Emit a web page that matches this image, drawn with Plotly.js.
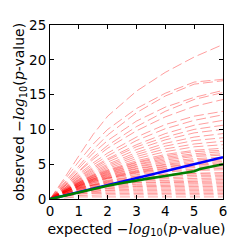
<!DOCTYPE html>
<html>
<head>
<meta charset="utf-8">
<script src="https://cdn.plot.ly/plotly-3.0.1.min.js"></script>
<style>html,body{margin:0;padding:0;background:#fff;}#chart{width:249px;height:249px;}</style>
</head>
<body>
<div id="chart"></div>
<script>
// expected -log10(p) grid for the red (permuted) curves
var xGrid = [0, 0.25, 0.5, 1, 1.5, 2, 3, 4, 5, 6];

// observed -log10(p) of each red curve at xGrid
var redCurves = [
  [0, 1.5, 3.0, 6.2, 9.3, 11.9, 15.5, 18.2, 20.4, 22.2],
  [0, 1.3, 2.7, 5.4, 7.9, 10.0, 13.0, 15.2, 16.8, 17.2],
  [0, 1.2, 2.4, 4.8, 7.1, 9.2, 12.4, 14.8, 16.5, 17.0],
  [0, 1.1, 2.2, 4.5, 6.6, 8.4, 11.2, 13.2, 14.6, 15.6],
  [0, 1.0, 2.0, 4.1, 6.0, 7.7, 10.4, 12.6, 14.3, 15.3],
  [0, 1.0, 2.0, 3.9, 5.7, 7.3, 9.8, 11.8, 13.3, 14.3],
  [0, 0.9, 1.8, 3.6, 5.2, 6.6, 8.9, 10.7, 11.9, 12.6],
  [0, 0.9, 1.8, 3.4, 4.9, 6.2, 8.4, 10.1, 11.3, 12.1],
  [0, 0.8, 1.6, 3.2, 4.6, 5.8, 7.8, 9.4, 10.6, 11.3],
  [0, 0.8, 1.6, 3.1, 4.4, 5.6, 7.5, 8.9, 10.0, 10.6],
  [0, 0.8, 1.5, 2.9, 4.2, 5.3, 7.1, 8.5, 9.5, 10.0],
  [0, 0.7, 1.4, 2.8, 4.0, 5.0, 6.7, 8.0, 8.9, 9.4],
  [0, 0.7, 1.4, 2.7, 3.8, 4.8, 6.4, 7.6, 8.4, 8.8],
  [0, 0.7, 1.3, 2.6, 3.6, 4.6, 6.1, 7.2, 7.9, 8.3],
  [0, 0.7, 1.3, 2.5, 3.5, 4.4, 5.8, 6.8, 7.5, 7.8],
  [0, 0.6, 1.2, 2.4, 3.4, 4.2, 5.5, 6.4, 7.0, 7.3],
  [0, 0.6, 1.2, 2.4, 3.3, 4.1, 5.3, 6.2, 6.8, 7.0],
  [0, 0.6, 1.2, 2.3, 3.2, 4.0, 5.2, 6.0, 6.5, 6.8],
  [0, 0.6, 1.2, 2.3, 3.1, 3.9, 5.0, 5.8, 6.3, 6.5],
  [0, 0.6, 1.2, 2.2, 3.1, 3.8, 4.9, 5.6, 6.1, 6.3],
  [0, 0.6, 1.1, 2.2, 3.0, 3.7, 4.7, 5.4, 5.8, 6.0],
  [0, 0.6, 1.1, 2.1, 2.9, 3.6, 4.6, 5.2, 5.6, 5.8],
  [0, 0.6, 1.1, 2.1, 2.9, 3.5, 4.4, 5.0, 5.4, 5.6],
  [0, 0.6, 1.1, 2.0, 2.8, 3.4, 4.3, 4.9, 5.2, 5.4],
  [0, 0.5, 1.1, 2.0, 2.7, 3.3, 4.1, 4.7, 5.0, 5.2],
  [0, 0.5, 1.0, 1.9, 2.7, 3.2, 4.0, 4.6, 4.9, 5.0],
  [0, 0.5, 1.0, 1.9, 2.6, 3.1, 3.9, 4.4, 4.7, 4.8],
  [0, 0.5, 1.0, 1.9, 2.5, 3.0, 3.8, 4.3, 4.5, 4.6],
  [0, 0.5, 1.0, 1.8, 2.5, 3.0, 3.7, 4.1, 4.3, 4.4],
  [0, 0.5, 1.0, 1.8, 2.4, 2.9, 3.5, 3.9, 4.1, 4.2],
  [0, 0.5, 1.0, 1.7, 2.3, 2.7, 3.3, 3.6, 3.7, 3.8],
  [0, 0.5, 1.0, 1.7, 2.2, 2.6, 3.2, 3.5, 3.6, 3.6],
  [0, 0.5, 0.9, 1.6, 2.1, 2.5, 3.0, 3.3, 3.4, 3.4],
  [0, 0.5, 0.9, 1.6, 2.0, 2.4, 2.9, 3.1, 3.2, 3.2],
  [0, 0.5, 0.9, 1.5, 2.0, 2.3, 2.7, 2.9, 3.0, 3.0],
  [0, 0.4, 0.8, 1.5, 1.9, 2.2, 2.6, 2.7, 2.8, 2.8],
  [0, 0.4, 0.8, 1.4, 1.8, 2.1, 2.4, 2.5, 2.6, 2.6],
  [0, 0.4, 0.8, 1.4, 1.7, 2.0, 2.3, 2.4, 2.4, 2.4],
  [0, 0.4, 0.8, 1.3, 1.6, 1.9, 2.1, 2.2, 2.2, 2.2],
  [0, 0.4, 0.7, 1.2, 1.5, 1.8, 1.9, 2.0, 2.0, 2.0],
  [0, 0.4, 0.7, 1.1, 1.4, 1.6, 1.8, 1.8, 1.8, 1.8],
  [0, 0.3, 0.6, 1.1, 1.3, 1.5, 1.6, 1.6, 1.6, 1.6],
  [0, 0.3, 0.6, 1.0, 1.2, 1.3, 1.4, 1.4, 1.4, 1.4],
  [0, 0.3, 0.5, 0.9, 1.1, 1.2, 1.2, 1.2, 1.2, 1.2],
  [0, 0.3, 0.5, 0.8, 0.9, 1.0, 1.0, 1.0, 1.0, 1.0],
  [0, 0.2, 0.4, 0.7, 0.8, 0.8, 0.8, 0.8, 0.8, 0.8],
  [0, 0.2, 0.4, 0.5, 0.6, 0.6, 0.6, 0.6, 0.6, 0.6],
  [0, 0.1, 0.2, 0.3, 0.3, 0.3, 0.3, 0.3, 0.3, 0.3]
];

// expected = observed reference line
var diagX = [0, 6];
var diagY = [0, 6];

// observed real data
var obsX = [0, 0.5, 1, 1.5, 2, 2.5, 3, 3.5, 4, 4.5, 4.8, 5, 5.2, 5.4, 5.6, 5.8, 6];
var obsY = [0, 0.5, 1.0, 1.45, 1.9, 2.3, 2.7, 3.0, 3.3, 3.6, 3.8, 4.0, 4.3, 4.5, 4.6, 4.9, 5.0];

var xTicks = [0, 1, 2, 3, 4, 5, 6];
var yTicks = [0, 5, 10, 15, 20, 25];

var traces = [];
redCurves.forEach(function (ys) {
  traces.push({
    x: xGrid, y: ys, type: 'scatter', mode: 'lines',
    line: {color: 'rgba(255,0,0,0.38)', width: 1, dash: '10px,4px'},
    hoverinfo: 'skip', showlegend: false
  });
});
traces.push({x: diagX, y: diagY, type: 'scatter', mode: 'lines',
  line: {color: '#0000ff', width: 2.6}, showlegend: false});
traces.push({x: obsX, y: obsY, type: 'scatter', mode: 'lines',
  line: {color: '#007f00', width: 2.6}, showlegend: false});

var mathL = '<span style="font-family:\'DejaVu Serif\';font-style:italic">';
var layout = {
  width: 249, height: 249,
  margin: {l: 50, r: 26, t: 25, b: 50},
  paper_bgcolor: '#ffffff', plot_bgcolor: '#ffffff',
  font: {family: 'DejaVu Sans', size: 14, color: '#000'},
  showlegend: false,
  xaxis: {
    range: [0, 6], tickvals: xTicks, ticktext: xTicks.map(String),
    ticks: 'inside', ticklen: 4, tickcolor: '#000', mirror: 'ticks',
    showline: true, linecolor: '#000', linewidth: 1, showgrid: false, zeroline: false,
    tickfont: {size: 13.5}, automargin: true,
    title: {text: 'expected ' + mathL + '−log</span><sub>10</sub>(' + mathL + 'p</span>-value)', font: {size: 14}, standoff: 5}
  },
  yaxis: {
    range: [0, 25], tickvals: yTicks, ticktext: yTicks.map(String),
    ticks: 'inside', ticklen: 4, tickcolor: '#000', mirror: 'ticks',
    showline: true, linecolor: '#000', linewidth: 1, showgrid: false, zeroline: false,
    tickfont: {size: 13.5}, automargin: true,
    title: {text: 'observed ' + mathL + '−log</span><sub>10</sub>(' + mathL + 'p</span>-value)', font: {size: 14}, standoff: 1}
  }
};

Plotly.newPlot('chart', traces, layout, {staticPlot: true, displayModeBar: false});
</script>
</body>
</html>
